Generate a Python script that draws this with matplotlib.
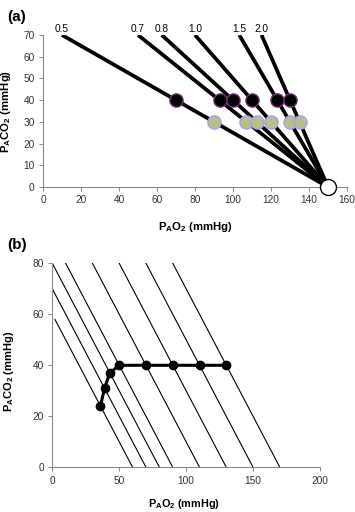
import numpy
import matplotlib
matplotlib.use('Agg')
import matplotlib.pyplot as plt

plt.rcParams['font.family'] = ['Liberation Sans', 'DejaVu Sans']
plt.rcParams['mathtext.fontset'] = 'custom'
plt.rcParams['mathtext.rm'] = 'Liberation Sans:bold'
plt.rcParams['mathtext.bf'] = 'Liberation Sans:bold'
plt.rcParams['mathtext.default'] = 'rm'

# panel (a): R lines from inspired point to PACO2 = 70
r_labels = ['0.5', '0.7', '0.8', '1.0', '1.5', '2.0']
r_start_x = [10, 50, 62.5, 80, 103.3, 115]
inspired_po2 = 150
top_pco2 = 70
black_po2 = [70, 92.9, 100, 110, 123.3, 130]
black_pco2 = [40, 40, 40, 40, 40, 40]
green_po2 = [90, 107.1, 112.5, 120, 130, 135]
green_pco2 = [30, 30, 30, 30, 30, 30]

# panel (b): iso lines (PAO2 + PACO2 = c) and the path
iso_c = [60, 70, 80, 90, 110, 130, 150, 170]
iso_x0 = [2, 0, 0, 10, 30, 50, 70, 90]
path_po2 = [36, 39, 43, 50, 70, 90, 110, 130]
path_pco2 = [24, 31, 37, 40, 40, 40, 40, 40]

W, H = 355, 512
fig = plt.figure(figsize=(W / 100, H / 100), dpi=100)

def style_axes(ax):
  for s in ['top', 'right']:
    ax.spines[s].set_visible(False)
  for s in ['left', 'bottom']:
    ax.spines[s].set_color('#888888')
    ax.spines[s].set_linewidth(0.8)
  ax.tick_params(direction='out', length=3, width=0.7, color='#888888',
                 labelsize=7.3, labelcolor='#333333', pad=3)

# ---- (a)
ax1 = fig.add_axes([43 / W, 1 - 187 / H, (347 - 43) / W, (187 - 35) / H])
style_axes(ax1)
for lab, x0 in zip(r_labels, r_start_x):
  ax1.plot([x0, inspired_po2], [top_pco2, 0], color='black', lw=2.7,
           solid_capstyle='butt', zorder=2)
  ax1.text(x0, top_pco2 + 0.6, lab, ha='center', va='bottom', fontsize=7.3)
ax1.plot(black_po2, black_pco2, 'o', ms=9.5, mfc='black', mec='#7a2a7a',
         mew=1.0, zorder=3)
ax1.plot(green_po2, green_pco2, 'o', ms=9.5, mfc='#b9bf8c', mec='#a99ef0',
         mew=1.0, zorder=3)
ax1.plot([inspired_po2], [0], 'o', ms=11.5, mfc='white', mec='black',
         mew=1.0, zorder=4, clip_on=False)
ax1.set_xlim(0, 160)
ax1.set_ylim(0, 70)
ax1.set_xticks(numpy.arange(0, 161, 20))
ax1.set_yticks(numpy.arange(0, 71, 10))
ax1.set_xlabel(r'$\mathbf{P_AO_2}$ (mmHg)', fontsize=8.2, fontweight='bold')
ax1.xaxis.set_label_coords(0.5, -0.215)
ax1.set_ylabel(r'$\mathbf{P_ACO_2}$ (mmHg)', fontsize=8.2, fontweight='bold')
ax1.yaxis.set_label_coords(-0.098, 0.5)

# ---- (b)
ax2 = fig.add_axes([52.3 / W, 1 - 467.3 / H, (320 - 52.3) / W, (467.3 - 263.3) / H])
style_axes(ax2)
for c, x0 in zip(iso_c, iso_x0):
  xs = numpy.array([x0, c])
  ax2.plot(xs, c - xs, color='black', lw=0.8, zorder=2)
ax2.plot(path_po2, path_pco2, '-o', color='black', lw=2.2, ms=6, zorder=3)
ax2.set_xlim(0, 200)
ax2.set_ylim(0, 80)
ax2.set_xticks(numpy.arange(0, 201, 50))
ax2.set_yticks(numpy.arange(0, 81, 20))
ax2.set_xlabel(r'$\mathbf{P_AO_2}$ (mmHg)', fontsize=7.8, fontweight='bold')
ax2.xaxis.set_label_coords(0.49, -0.148)
ax2.set_ylabel(r'$\mathbf{P_ACO_2}$ (mmHg)', fontsize=8.0, fontweight='bold')
ax2.yaxis.set_label_coords(-0.135, 0.47)

fig.text(7 / W, 1 - 21 / H, '(a)', fontsize=11, fontweight='bold')
fig.text(7 / W, 1 - 249 / H, '(b)', fontsize=11, fontweight='bold')

fig.savefig('out.png', dpi=100)
